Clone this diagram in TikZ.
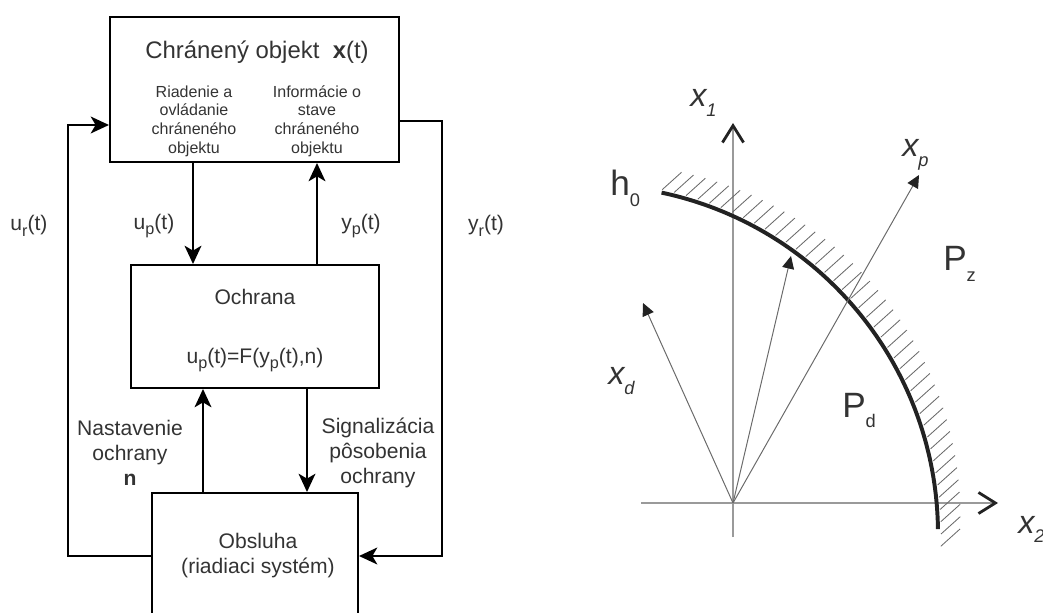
\documentclass[tikz,border=0pt]{standalone}
\usepackage{fontspec}
\setmainfont{Liberation Sans}
\usepackage{xcolor}
\usepackage{tikz}
\usetikzlibrary{arrows.meta,calc,positioning}
\definecolor{otext}{HTML}{333333}
\definecolor{ogray}{HTML}{9A9A9A}
\definecolor{ospoke}{HTML}{6A6A6A}
\definecolor{odark}{HTML}{222222}
\newcommand{\dolny}[1]{\raisebox{-0.3em}{\fontsize{13}{13}\selectfont #1}}
\newcommand{\dol}[1]{\raisebox{-4pt}{\fontsize{11.5}{11.5}\selectfont #1}}
\tikzset{
  >={Stealth[length=13pt, width=12pt, inset=3.5pt]},
  oblok/.style={draw=black, line width=1.4pt, inner sep=0pt},
  otok/.style={->, black, line width=1.4pt},
  olbl/.style={text=otext, font=\fontsize{15}{17.8}\selectfont, align=center, inner sep=0pt},
  osub/.style={text=otext, font=\fontsize{11.4}{13.3}\selectfont, align=center, inner sep=0pt},
  oosa/.style={ogray, line width=0.8pt,
               -{Straight Barb[length=12pt, width=15pt, line width=2pt, color=odark]}},
  olucz/.style={ospoke, line width=0.7pt, -{Triangle[length=9pt, width=8.5pt, color=odark]}},
  oluk/.style={odark, line width=2.8pt},
  osraf/.style={ospoke, line width=0.6pt},
  ovel/.style={text=otext, font=\fontsize{25}{25}\selectfont, inner sep=0pt, anchor=base west},
  ovelx/.style={ovel, font=\fontsize{23}{23}\selectfont\itshape},
}

\begin{document}
\begin{tikzpicture}[x=0.025cm, y=0.025cm]
  \useasboundingbox (0,0) rectangle (1043,612);
  \clip (0,0) rectangle (1043,612);

  % bloky
  \node[oblok, minimum width=7.225cm, minimum height=3.625cm] (top) at (254.5,522.5) {};
  \node[oblok, minimum width=6.2cm, minimum height=3.075cm] (ochr) at (255,285.5) {};
  \node[oblok, minimum width=5.15cm, minimum height=3.15cm] (obsl) at (255,56) {};

  \node[olbl, font=\fontsize{17}{20}\selectfont] (nazov) at (257,560) {Chránený objekt\ \ \textbf{x}(t)};
  \node[osub] (riad) at (194,491) {Riadenie\ a\\ovládanie\\chráneného\\objektu};
  \node[osub] (info) at (317,491) {Informácie o\\stave\\chráneného\\objektu};
  \node[olbl] (ochrt) at (255,315) {Ochrana};
  \node[olbl] (funk) at (255,252) {u\dol{p}(t)=F(y\dol{p}(t),n)};
  \node[olbl] (obslt) at (258,56) {Obsluha\\(riadiaci systém)};

  % signaly
  \coordinate (xup) at (193,0);
  \coordinate (xyp) at (317,0);
  \coordinate (xn) at (203,0);
  \coordinate (xsig) at (307,0);
  \coordinate (lavo) at (68,487);
  \coordinate (pravo) at (442,491);

  \draw[otok] (top.south -| xup) -- (ochr.north -| xup);
  \draw[otok] (ochr.north -| xyp) -- (top.south -| xyp);
  \draw[otok] (obsl.north -| xn) -- (ochr.south -| xn);
  \draw[otok] (ochr.south -| xsig) -- (obsl.north -| xsig);
  \draw[otok] (obsl.west) -| (lavo) -- (top.west |- lavo);
  \draw[otok] (top.east |- pravo) -- (pravo) |- (obsl.east);

  \node[olbl] (ur) at (29,386) {u\dol{r}(t)};
  \node[olbl] (up) at (154,386) {u\dol{p}(t)};
  \node[olbl] (yp) at (361,386) {y\dol{p}(t)};
  \node[olbl] (yr) at (486,386) {y\dol{r}(t)};
  \node[olbl] (nast) at (130,159) {Nastavenie\\ochrany\\\textbf{n}};
  \node[olbl] (sig) at (378,159) {Signalizácia\\pôsobenia\\ochrany};

  % priestor stavov
  \coordinate (O) at (733,109);
  \coordinate (S) at (589,78);
  \coordinate (x2l) at (641,109);
  \coordinate (x2k) at (998,109);
  \coordinate (x1d) at (733,75);
  \coordinate (x1h) at (733,489);
  \coordinate (td) at (643,309);
  \coordinate (th) at (791,356);
  \coordinate (tp) at (919,437);

  \draw[oosa] (x2l) -- (x2k);
  \draw[oosa] (x1d) -- (x1h);

  \foreach \a in {78,76,...,-2}
    \draw[osraf] ($(S)+(\a:352)$) -- ++(42:26);
  \draw[oluk] ($(S)+(78:349)$) arc[start angle=78, end angle=0.8, radius=349];

  \draw[olucz] (O) -- (td);
  \draw[olucz] (O) -- (th);
  \draw[olucz] (O) -- (tp);

  \node[ovelx] (lx1) at (690,505) {x\dolny{\itshape 1}};
  \node[ovelx] (lxp) at (902,455) {x\dolny{\itshape p}};
  \node[ovelx] (lx2) at (1018,79) {x\dolny{\itshape 2}};
  \node[ovelx] (lxd) at (608,227) {x\dolny{\itshape d}};
  \node[ovel] (lh0) at (610,416) {h\dolny{0}};
  \node[ovel] (lpz) at (943,341) {P\dolny{z}};
  \node[ovel] (lpd) at (842,195) {P\dolny{d}};

\end{tikzpicture}
\end{document}
